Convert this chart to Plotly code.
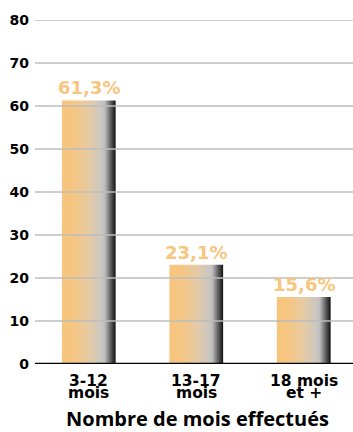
import plotly.graph_objects as go

cat_line1 = ["3-12", "13-17", "18 mois"]
cat_line2 = ["mois", "mois", "et +"]
values = [61.3, 23.1, 15.6]
labels = ["61,3%", "23,1%", "15,6%"]
yticks = [0, 10, 20, 30, 40, 50, 60, 70, 80]
x_title = "Nombre de mois effectués"

bar_w = 0.5
grad = [[0, "#F7C57D"], [0.22, "#F5C682"], [0.5, "#E6CAA4"], [0.74, "#CAC7C2"],
        [0.8, "#BDBDBD"], [0.9, "#666666"], [1, "#111111"]]

tick_font = dict(family="DejaVu Sans", size=15.5, color="black", weight="bold")

fig = go.Figure()
for i, v in enumerate(values):
    x0, x1 = i - bar_w / 2, i + bar_w / 2
    fig.add_trace(go.Scatter(
        x=[x0, x1, x1, x0, x0], y=[0, 0, v, v, 0],
        mode="lines", line=dict(width=0), fill="toself",
        fillgradient=dict(type="horizontal", colorscale=grad),
        hoverinfo="skip", showlegend=False))
    fig.add_annotation(x=i, y=v, text=labels[i], showarrow=False,
                       yanchor="bottom", yshift=0,
                       font=dict(family="DejaVu Sans", size=18, color="#F7C67E", weight="bold"))
    fig.add_annotation(x=i, y=0, text=cat_line1[i], showarrow=False, borderpad=0,
                       yanchor="top", yshift=-7, font=tick_font)
    fig.add_annotation(x=i, y=0, text=cat_line2[i], showarrow=False, borderpad=0,
                       yanchor="top", yshift=-19, font=tick_font)

fig.add_annotation(xref="paper", x=0.5, xshift=3, y=0, yanchor="top", yshift=-40,
                   text=x_title, showarrow=False, borderpad=0,
                   font=dict(family="Open Sans", size=20, color="black", weight="bold"))

for t in yticks[1:]:
    fig.add_shape(type="line", xref="paper", x0=0, x1=1, y0=t, y1=t,
                  line=dict(color="#BDBDBD", width=1.5), layer="above")
fig.add_shape(type="line", xref="paper", x0=0, x1=1, y0=0, y1=0,
              line=dict(color="#000000", width=2.5), layer="above")

fig.update_layout(
    width=353, height=432,
    margin=dict(l=35, r=0, t=20, b=68),
    paper_bgcolor="white", plot_bgcolor="white",
    xaxis=dict(range=[-0.5, 2.458], tickvals=[0, 1, 2], showticklabels=False,
               showgrid=False, zeroline=False, showline=False, ticks=""),
    yaxis=dict(range=[0, 80], tickvals=yticks, showgrid=False, zeroline=False,
               showline=False, ticks="", ticklabelstandoff=5,
               tickfont=dict(family="DejaVu Sans", size=14, color="black", weight="bold")),
)

fig.write_html("out.html")
